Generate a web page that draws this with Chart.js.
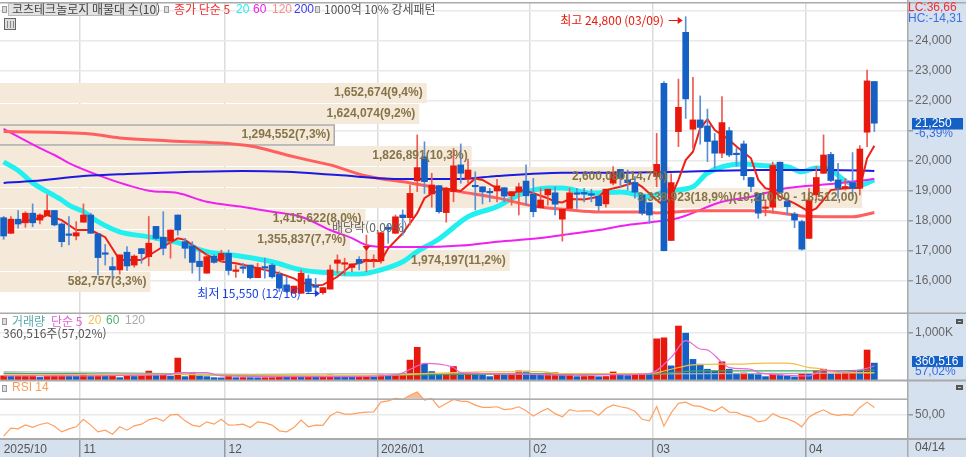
<!DOCTYPE html>
<html lang="ko">
<head>
<meta charset="UTF-8" />
<title>코츠테크놀로지</title>
<style>
  html, body { margin: 0; padding: 0; background: #fff; }
  #wrap { width: 966px; height: 457px; overflow: hidden; }
</style>
<script src="https://cdn.jsdelivr.net/npm/chart.js@4/dist/chart.umd.min.js"></script>
</head>
<body>
<div id="wrap"><canvas id="chart" width="966" height="457"></canvas></div>
<script>
// trading days, 4 empty slots at the right edge of the chart
const dates = [
  "10/17","10/20","10/21","10/22","10/23","10/24","10/27","10/28","10/29","10/30","10/31",
  "11/03","11/04","11/05","11/06","11/07","11/10","11/11","11/12","11/13","11/14",
  "11/17","11/18","11/19","11/20","11/21","11/24","11/25","11/26","11/27","11/28",
  "12/01","12/02","12/03","12/04","12/05","12/08","12/09","12/10","12/11","12/12",
  "12/15","12/16","12/17","12/18","12/19","12/22","12/23","12/24","12/26","12/29","12/30",
  "01/02","01/05","01/06","01/07","01/08","01/09","01/12","01/13","01/14","01/15","01/16",
  "01/19","01/20","01/21","01/22","01/23","01/26","01/27","01/28","01/29","01/30",
  "02/02","02/03","02/04","02/05","02/06","02/09","02/10","02/11","02/12","02/13",
  "02/19","02/20","02/23","02/24","02/25","02/26","02/27",
  "03/03","03/04","03/05","03/06","03/09","03/10","03/11","03/12","03/13",
  "03/16","03/17","03/18","03/19","03/20","03/23","03/24","03/25","03/26","03/27","03/30","03/31",
  "04/01","04/02","04/03","04/06","04/07","04/08","04/09","04/10","04/13","04/14",
  "04/15","04/16","04/17","04/20"
];
const monthLabels = { "10/17": "2025/10", "11/03": "11", "12/01": "12", "01/02": "2026/01", "02/02": "02", "03/03": "03", "04/01": "04" };

const opens = [
  18100,17580,18050,17930,18250,18020,18170,18340,17890,17550,17490,17950,18190,17560,16910,16470,16360,16950,16520,17070,
  16800,17810,17450,17320,18190,17300,17160,16650,16250,16820,16690,16910,16310,16440,16520,16100,16470,16520,16210,15860,
  15600,15580,16060,15840,15600,15720,16580,16550,16440,16710,16660,16660,16660,17780,17580,18190,18100,19330,20130,18890,
  19170,18270,18970,19860,19390,19170,19130,18970,18990,19100,18830,18950,19320,18880,18430,18860,18930,18050,18410,18910,
  18910,18880,18820,18560,19250,19710,19360,19270,18860,18600,19470,22580,17340,20970,24280,21050,21360,21160,20660,20250,
  21000,20220,20560,19440,18910,18410,18450,19950,18640,18220,17970,17410,18860,19580,20210,19360,19080,19270,19080,20950,22640
];
const highs = [
  18140,18140,18340,18300,18560,18230,18860,18340,17930,18140,17970,18560,18250,17560,17210,16780,16860,17140,16860,17070,
  18140,17810,18300,17690,18190,17410,17300,16970,16890,16860,17020,17020,16520,16580,16520,16580,16750,16580,16300,16130,
  15820,16360,16190,16080,15770,16520,16860,16750,16560,16800,17520,16860,17600,17860,18190,18360,19190,20860,20630,19580,
  19170,19080,20410,20560,20050,19630,19130,19080,19380,19100,18970,19250,19860,19410,19080,19050,19130,18380,19080,19080,
  19080,19050,18820,19050,19800,19710,19690,19470,18910,18600,20910,22640,19560,22720,24800,22780,22160,21720,20910,22140,
  21110,20410,20660,19440,18910,18690,19950,19950,18750,18280,18020,19080,19800,20860,20280,19910,19410,20270,20500,23020,22640
];
const lows = [
  17380,17580,17750,17780,17800,17890,18170,17830,17130,17190,17360,17950,17580,16190,16520,16080,16220,16340,16450,16580,
  16490,17360,16860,16750,17520,16750,16250,16000,16250,16580,16640,16190,16110,16250,16060,16100,16080,16080,15640,15600,
  15570,15580,15590,15590,15550,15720,16250,16190,16300,16360,16300,16450,16580,17250,17580,17520,17860,18970,18910,18450,
  18250,17950,18630,19250,19250,18360,18560,18630,18630,18630,18520,18190,18520,18130,18430,18520,18190,17320,18410,18410,
  18630,18630,18320,18450,19190,19130,19020,18750,18190,17910,19130,16990,17340,20470,21410,20410,20550,19970,19750,20100,
  20130,19820,19360,18970,18080,18160,18250,18910,18190,17770,17020,17410,18690,19580,19300,18750,19020,18800,18860,20470,20970
];
const closes = [
  17490,18050,17890,18250,17930,18190,18340,17860,17300,17510,17600,18190,17580,16770,16880,16360,16860,16490,16820,16900,
  17250,17410,17080,17690,17690,17080,16610,16470,16800,16610,16910,16340,16340,16410,16100,16440,16420,16130,15750,15640,
  15820,16250,15640,15780,15770,16360,16690,16570,16560,16580,16690,16680,17600,17710,18130,18100,18910,19770,19300,19190,
  18300,19080,19830,19580,19690,19130,18960,18930,19160,18820,18970,19130,18830,18300,18690,19050,18550,18380,18930,18880,
  18890,18850,18500,19050,19580,19410,19270,18950,18250,18190,19880,17000,19270,21780,22060,21360,21110,20640,20250,21270,
  20190,20200,19500,19140,18250,18450,19840,18940,18470,18020,17050,18690,19440,20190,19340,19080,19140,19080,20390,22660,21250
];

// moving averages as [candle index, value] read at the line's vertices
const ma5 = [[2,17940],[5,18080],[6,18190],[8,18020],[10,17690],[12,17690],[14,17450],[16,16690],[19,16690],[22,17140],
  [24,17410],[25,17360],[28,16860],[30,16640],[32,16580],[34,16470],[36,16360],[38,16250],[40,16080],[41,15940],[43,15840],
  [44,15860],[46,16130],[48,16520],[50,16660],[52,16660],[53,17080],[55,17580],[57,18250],[58,18750],[59,18910],[61,19080],
  [62,19020],[63,18990],[65,19410],[66,19360],[68,19080],[70,18860],[71,19020],[72,19000],[74,18830],[75,18750],[76,18630],
  [77,18610],[78,18720],[80,18710],[82,18800],[83,19020],[85,19130],[87,19280],[88,19130],[89,18910],[90,18690],[91,18500],
  [92,18800],[93,19360],[94,20020],[95,20300],[96,21080],[97,21380],[98,21020],[100,20690],[101,20470],[103,20080],[104,19360],
  [105,19080],[106,19020],[107,18800],[109,18580],[111,18300],[112,18410],[113,18690],[114,19020],[116,19080],[118,19100],
  [119,20080],[120,20500]];
const ma20 = [[0,19960],[2,19670],[4,19260],[8,18690],[9,18520],[11,18300],[13,17970],[16,17630],[20,17460],[24,17270],[28,16970],
  [32,16840],[37,16630],[41,16360],[45,16260],[49,16220],[52,16360],[55,16630],[57,16970],[60,17390],[64,18130],[68,18470],
  [71,18860],[75,19090],[77,19090],[81,18920],[85,18960],[89,18800],[91,18970],[95,19130],[97,19590],[102,19890],[105,19830],
  [108,19800],[110,19630],[112,19760],[114,19690],[116,19320],[118,19190],[120,19360]];
const ma60 = [[0,21060],[5,20420],[7,20190],[9,19920],[13,19520],[17,19190],[20,19000],[24,18920],[28,18630],[33,18460],[37,18300],
  [41,18130],[45,17690],[48,17420],[50,17190],[53,17120],[57,17120],[63,17170],[68,17300],[74,17420],[77,17520],[82,17690],
  [86,17860],[90,17970],[93,18090],[99,18630],[103,18800],[108,19090],[114,19220],[120,19390]];
const ma120 = [[0,20970],[12,20890],[16,20760],[23,20660],[34,20490],[39,20190],[42,20020],[45,19860],[50,19490],[56,19260],[60,19090],
  [63,18960],[68,18760],[73,18490],[78,18360],[82,18290],[88,18290],[90,18260],[96,18330],[103,18330],[107,18260],[110,18160],
  [117,18130],[120,18270]];
const ma200 = [[0,19260],[4,19320],[11,19490],[17,19560],[26,19630],[33,19660],[39,19630],[46,19520],[55,19390],[63,19390],[68,19490],
  [77,19600],[85,19600],[93,19630],[104,19690],[114,19690],[120,19660]];

const volumes = [
  90,80,85,88,90,55,85,88,90,85,80,130,85,88,80,85,50,85,75,90,
  190,95,110,85,468,72,158,86,72,50,45,86,50,52,50,48,50,51,86,72,
  86,80,82,65,70,108,72,65,60,65,70,60,108,85,120,144,425,698,338,180,
  108,110,288,144,158,150,108,72,108,100,110,194,190,144,140,150,155,120,125,72,
  75,78,70,75,172,100,95,108,112,100,878,900,302,1152,1000,440,338,230,194,389,
  230,144,150,122,115,72,144,108,86,65,144,122,194,230,122,130,144,194,190,640,360.516
];
const volMa5 = [[0,86],[12,90],[20,105],[23,122],[24,158],[28,158],[30,86],[45,70],[54,110],[57,300],[58,353],[60,338],[62,266],
  [63,158],[67,137],[80,100],[84,115],[89,137],[92,482],[94,842],[96,662],[97,640],[99,374],[100,266],[103,230],[104,158],
  [106,122],[108,100],[111,86],[113,209],[116,172],[119,250],[120,302]];
const volMa20 = [[0,110],[24,120],[30,110],[50,95],[62,158],[66,172],[74,180],[77,137],[81,137],[89,137],[92,230],[95,324],[99,338],
  [101,338],[105,360],[108,360],[111,266],[113,230],[114,172],[120,158]];
const volMa60 = [[0,140],[10,135],[24,120],[34,95],[50,90],[56,110],[70,130],[89,122],[92,158],[96,194],[101,194],[110,194],[120,209]];
const volMa120 = [[0,172],[12,165],[25,130],[34,120],[45,130],[60,130],[89,130],[120,150]];

const rsi = [
  23,33,32,37,34,37.5,39.6,35.4,28.3,32,34.6,44,36.7,28.3,30.4,25.4,34.6,30.4,35.8,37.9,
  43.3,45.8,41.7,49.6,50,42,36.7,35,40.8,37.9,44,36.7,37,37.9,33.8,40.8,39.6,36.7,29.6,28.3,
  33.8,42.9,34.6,36.7,36.3,48.3,53.3,50.4,50.4,52,53,53.3,65.4,67,70,68.8,74,78,68,70,
  58.8,63.8,68.8,66.7,66,61.7,58.8,58.8,59.6,56,57,59.6,54.6,47.9,53.3,57.5,51,47,56,54,
  54.6,54.6,49,57.5,62,59.6,58,54,44,42,60,35.4,52,63.8,65.4,61,60,56.7,54,59.6,
  53,52.5,48.8,46.7,40.8,42.5,51,46.7,44.6,40.8,34.6,47,52,55.8,50.8,48.8,50,48.8,58.8,65.4,58.8
];

// price bands of the volume profile, top to bottom
const bandEdges = [22590,21890,21190,20490,19790,19090,18390,17690,16990,16290,15590];
const bandVolumes = [1652674,1624074,1294552,1826891,2600080,3338923,1415622,1355837,1974197,582757];
const bandLabels = ["1,652,674(9,4%)","1,624,074(9,2%)","1,294,552(7,3%)","1,826,891(10,3%)","2,600,080(14,7%)",
  "3,338,923(18,9%)(19,210,00 - 18,512,00)","1,415,622(8,0%)","1,355,837(7,7%)","1,974,197(11,2%)","582,757(3,3%)"];
const currentBand = 2;

const priceTicks = [25000,24000,23000,22000,21000,20000,19000,18000,17000,16000];
const hiddenPriceLabels = [25000, 21000]; // behind the header and the price readout

const RED = "#e8190c", BLUE = "#1560c4", LATIN = "'Liberation Sans', Arial, sans-serif", HANGUL = "'Noto Sans CJK KR', sans-serif";
const n = closes.length;
const num = v => String(Math.round(v)).replace(/\B(?=(\d{3})+$)/g, ",");
const pts = list => list.map(([i, v]) => ({ x: dates[i], y: v }));

const candleColors = closes.map((c, i) => (c >= opens[i] ? RED : BLUE));
const wickColors = closes.map((c, i) => (c >= opens[i] ? "#ee5a50" : "#5b8fd6"));
const volColors = volumes.map((v, i) => (i === 0 || v >= volumes[i - 1] ? RED : BLUE));

function line(data, yAxisID, color, width, order, smooth) {
  return { type: "line", data, yAxisID, borderColor: color, borderWidth: width, pointRadius: 0, order,
    cubicInterpolationMode: smooth ? "monotone" : "default", tension: 0 };
}

function txt(ctx, s, x, y, color, font, align) {
  ctx.fillStyle = color;
  ctx.font = font;
  ctx.textAlign = align || "left";
  ctx.textBaseline = "middle";
  ctx.fillText(s, x, y);
}
function handle(ctx, x, y) {
  ctx.fillStyle = "#999";
  ctx.fillRect(x, y, 5, 7);
  ctx.fillStyle = "#ddd";
  ctx.fillRect(x + 1, y + 1, 3, 5);
}
// stops the first and last tick labels from pushing the chart area in
function fitAxis(s) {
  s.width = 59;
  s.paddingTop = 0;
  s.paddingBottom = 0;
}

const panelPlugin = {
  id: "panel",
  beforeDraw(chart) {
    const { ctx, chartArea: a } = chart;
    ctx.save();
    ctx.fillStyle = "#d6e1ef";
    ctx.fillRect(a.right, 0, 966 - a.right, 457);
    ctx.fillRect(0, a.bottom, 966, 457 - a.bottom);
    ctx.restore();
  },
  beforeDatasetsDraw(chart) {
    // profile bands go over the grid and under the candles
    const { ctx, scales } = chart;
    ctx.save();
    bandVolumes.forEach((v, i) => {
      const top = scales.yp.getPixelForValue(bandEdges[i]);
      const bottom = scales.yp.getPixelForValue(bandEdges[i + 1]);
      ctx.fillStyle = "#f5e9d9";
      ctx.fillRect(0, top, scales.xv.getPixelForValue(v), bottom - top - 1);
      if (i === currentBand) {
        ctx.strokeStyle = "#aaa";
        ctx.lineWidth = 1.5;
        ctx.strokeRect(-2, top, scales.xv.getPixelForValue(v) + 2, bottom - top - 1);
      }
    });
    ctx.restore();
  },
  afterDatasetsDraw(chart) {
    const { ctx, scales, chartArea: a } = chart;
    const font = "12px " + LATIN, hfont = "12px " + HANGUL;
    ctx.save();

    // panel separators
    ctx.fillStyle = "#aaa";
    ctx.fillRect(0, 2, 966, 1.5);
    ctx.fillRect(0, scales.yv.top - 0.5, 966, 1.5);
    ctx.fillRect(0, scales.yr.top - 0.5, 966, 2);
    ctx.fillRect(0, a.bottom - 1, 966, 2);
    ctx.fillRect(0, scales.yr.getPixelForValue(70), a.right, 1.5);
    ctx.fillRect(a.right, 0, 1.5, 457);

    // band labels
    bandVolumes.forEach((v, i) => {
      const y = (scales.yp.getPixelForValue(bandEdges[i]) + scales.yp.getPixelForValue(bandEdges[i + 1])) / 2 - 1;
      txt(ctx, bandLabels[i], scales.xv.getPixelForValue(v) - 4, y, "#85744a", "bold " + font, "right");
    });

    // high, low and ex-dividend marks
    const hx = scales.x.getPixelForValue(94), lx = scales.x.getPixelForValue(44), dx = scales.x.getPixelForValue(50);
    txt(ctx, "최고 24,800 (03/09)", hx - 22, 20, RED, hfont, "right");
    ctx.strokeStyle = RED; ctx.fillStyle = RED; ctx.lineWidth = 1;
    ctx.beginPath(); ctx.moveTo(hx - 17, 20.5); ctx.lineTo(hx - 6, 20.5); ctx.stroke();
    ctx.beginPath(); ctx.moveTo(hx - 3, 20.5); ctx.lineTo(hx - 8, 17); ctx.lineTo(hx - 8, 24); ctx.fill();
    txt(ctx, "최저 15,550 (12/16)", lx - 22, 293, "#1a3fe0", hfont, "right");
    ctx.strokeStyle = "#1a3fe0"; ctx.fillStyle = "#1a3fe0";
    ctx.beginPath(); ctx.moveTo(lx - 17, 293.5); ctx.lineTo(lx - 7, 293.5); ctx.stroke();
    ctx.beginPath(); ctx.moveTo(lx - 3, 293.5); ctx.lineTo(lx - 8, 290); ctx.lineTo(lx - 8, 297); ctx.fill();
    txt(ctx, "배당락(0,00%)", 332, 227, "#666", hfont);
    ctx.fillStyle = RED;
    ctx.beginPath(); ctx.moveTo(dx - 4, 246); ctx.lineTo(dx + 4, 246); ctx.lineTo(dx, 251); ctx.fill();

    // header legend
    handle(ctx, 2, 6);
    ctx.fillStyle = "#e2e2e2"; ctx.fillRect(8, 3, 149, 13);
    ctx.strokeStyle = "#bbb"; ctx.lineWidth = 1; ctx.strokeRect(8.5, 3.5, 148, 12);
    txt(ctx, "코츠테크놀로지 매물대 수(10)", 12, 9.5, "#444", hfont);
    handle(ctx, 164, 6);
    txt(ctx, "종가 단순 5", 174, 9.5, "#f03030", hfont);
    txt(ctx, "20", 236, 9.5, "#22f0f0", font);
    txt(ctx, "60", 253, 9.5, "#f020f0", font);
    txt(ctx, "120", 272, 9.5, "#ff8a8a", font);
    txt(ctx, "200", 294, 9.5, "#3a3af0", font);
    handle(ctx, 315, 6);
    txt(ctx, "1000억 10% 강세패턴", 324, 9.5, "#555", hfont);

    // small table icon
    ctx.fillStyle = "#ddd"; ctx.fillRect(4, 18, 12, 12);
    ctx.strokeStyle = "#666"; ctx.strokeRect(4.5, 18.5, 11, 11);
    ctx.strokeStyle = "#888";
    [7.5, 10.5, 13.5].forEach(x => { ctx.beginPath(); ctx.moveTo(x, 21); ctx.lineTo(x, 28); ctx.stroke(); });

    // volume and rsi legends
    handle(ctx, 2, 318);
    txt(ctx, "거래량", 12, 321, "#55aaaa", hfont);
    txt(ctx, "단순 5", 51, 321, "#e060d0", hfont);
    txt(ctx, "20", 88, 321, "#f0c050", font);
    txt(ctx, "60", 106, 321, "#50b070", font);
    txt(ctx, "120", 125, 321, "#aaa", font);
    txt(ctx, "360,516주(57,02%)", 3, 333, "#555", hfont);
    handle(ctx, 2, 385);
    txt(ctx, "RSI 14", 12, 388, "#ff9a55", font);

    // right side readouts
    txt(ctx, "LC:36,66", 908, 7.5, "#f03030", font);
    txt(ctx, "HC:-14,31", 908, 18.5, "#3a70e0", font);
    ctx.fillStyle = BLUE; ctx.fillRect(912, 118, 51, 11.5);
    txt(ctx, num(closes[n - 1]), 915, 124, "#fff", font);
    txt(ctx, "-6,39%", 915, 134, "#3a70e0", font);
    ctx.fillStyle = BLUE; ctx.fillRect(912, 356, 51, 11);
    txt(ctx, "360,516", 915, 361.5, "#fff", font);
    txt(ctx, "57,02%", 915, 372, "#3a70e0", font);
    txt(ctx, "04/14", 915, 448, "#555", font);
    [319, 385].forEach(y => {
      ctx.fillStyle = "#555"; ctx.fillRect(956, y, 7, 5);
      ctx.fillStyle = "#ccc"; ctx.fillRect(958, y + 2, 3, 1);
    });
    ctx.restore();
  }
};

new Chart(document.getElementById("chart"), {
  data: {
    labels: dates,
    datasets: [
      { type: "bar", data: opens.map((o, i) => [o, closes[i]]), yAxisID: "yp", backgroundColor: candleColors, barThickness: 6, minBarLength: 1.5, order: 1, grouped: false },
      { type: "bar", data: lows.map((l, i) => [l, highs[i]]), yAxisID: "yp", backgroundColor: wickColors, barThickness: 1, order: 2, grouped: false },
      line(pts(ma5), "yp", "#ee2018", 2, 3, false),
      line(pts(ma200), "yp", "#1a1ae0", 2, 4, true),
      line(pts(ma120), "yp", "#ff5f5f", 3, 5, true),
      line(pts(ma60), "yp", "#f020f0", 2, 6, true),
      line(pts(ma20), "yp", "#22f0f0", 5, 7, true),
      { type: "bar", data: volumes, yAxisID: "yv", backgroundColor: volColors, barThickness: 6, order: 9, grouped: false },
      line(pts(volMa5), "yv", "#e868d8", 1.2, 5, true),
      line(pts(volMa20), "yv", "#f2c040", 1.2, 6, true),
      line(pts(volMa60), "yv", "#40a860", 1.2, 7, true),
      line(pts(volMa120), "yv", "#b0b0b0", 1.2, 8, true),
      { type: "line", data: rsi, yAxisID: "yr", borderColor: "#ff9f60", borderWidth: 1.2, pointRadius: 0, order: 3,
        fill: { target: { value: 70 }, above: "#f7bd98", below: "transparent" } }
    ]
  },
  options: {
    responsive: false,
    animation: false,
    layout: { padding: { top: 3 } },
    plugins: { legend: { display: false }, tooltip: { enabled: false } },
    events: [],
    scales: {
      x: {
        type: "category",
        offset: true,
        border: { display: false },
        grid: {
          offset: true,
          tickLength: 18,
          color: c => (c.tick && monthLabels[dates[c.index]] && c.index > 0 ? "#dcdcdc" : "transparent"),
          tickColor: c => (c.tick && monthLabels[dates[c.index]] && c.index > 0 ? "#999" : "transparent"),
          lineWidth: 1.5
        },
        ticks: {
          autoSkip: false,
          maxRotation: 0,
          align: "start",
          padding: -15,
          color: "#555",
          font: { size: 12, family: LATIN },
          callback: (v, i) => monthLabels[dates[i]] || ""
        },
        afterFit: s => { s.height = 18; s.paddingLeft = 0; s.paddingRight = 0; }
      },
      xv: { type: "linear", axis: "x", display: false, min: 0, max: 3513000 },
      yp: {
        type: "linear", position: "right", stack: "panels", stackWeight: 310, weight: 1,
        min: 14923, max: 25257,
        border: { display: false },
        grid: { color: "#e9e9e9", lineWidth: 1.5, tickLength: 6, tickColor: "#999" },
        afterBuildTicks: s => { s.ticks = priceTicks.map(value => ({ value })); },
        ticks: { color: "#666", padding: 2, font: { size: 12, family: LATIN }, callback: v => (hiddenPriceLabels.includes(v) ? "" : num(v)) },
        afterFit: fitAxis
      },
      yv: {
        type: "linear", position: "right", stack: "panels", stackWeight: 67, weight: 2,
        min: 0, max: 1430,
        border: { display: false },
        grid: { color: "#e9e9e9", lineWidth: 1.5, tickLength: 6, tickColor: "#999" },
        afterBuildTicks: s => { s.ticks = [{ value: 1000 }]; },
        ticks: { color: "#666", padding: 2, font: { size: 12, family: LATIN }, callback: () => "1,000K" },
        afterFit: fitAxis
      },
      yr: {
        type: "linear", position: "right", stack: "panels", stackWeight: 59, weight: 3,
        min: 19.4, max: 93,
        border: { display: false },
        grid: { color: "#e9e9e9", lineWidth: 1.5, tickLength: 6, tickColor: "#999" },
        afterBuildTicks: s => { s.ticks = [{ value: 50 }]; },
        ticks: { color: "#666", padding: 2, font: { size: 12, family: LATIN }, callback: () => "50,00" },
        afterFit: fitAxis
      }
    }
  },
  plugins: [panelPlugin]
});
</script>
</body>
</html>
